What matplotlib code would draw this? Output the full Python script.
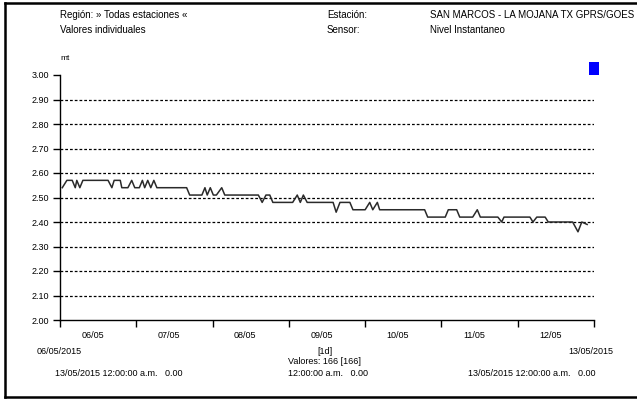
import numpy as np
import matplotlib
matplotlib.use("Agg")
from matplotlib import pyplot as plt
from matplotlib.patches import Rectangle
from matplotlib.lines import Line2D

# days since 06/05/2015 00:00 and water level (mt)
days = [0.03, 0.09, 0.16, 0.20, 0.22, 0.26, 0.30, 0.63, 0.68, 0.71, 0.79, 0.81,
        0.89, 0.94, 0.98, 1.04, 1.08, 1.11, 1.15, 1.19, 1.23, 1.27, 1.66, 1.70,
        1.86, 1.90, 1.93, 1.97, 2.01, 2.05, 2.12, 2.16, 2.60, 2.65, 2.70, 2.75,
        2.79, 3.05, 3.11, 3.15, 3.19, 3.24, 3.58, 3.62, 3.67, 3.80, 3.84, 4.00,
        4.06, 4.10, 4.16, 4.19, 4.78, 4.82, 5.05, 5.09, 5.20, 5.24, 5.41, 5.47,
        5.51, 5.74, 5.79, 5.82, 6.16, 6.20, 6.25, 6.36, 6.40, 6.72, 6.79, 6.84,
        6.91]
nivel = [2.54, 2.57, 2.57, 2.54, 2.57, 2.54, 2.57, 2.57, 2.54, 2.57, 2.57, 2.54,
         2.54, 2.57, 2.54, 2.54, 2.57, 2.54, 2.57, 2.54, 2.57, 2.54, 2.54, 2.51,
         2.51, 2.54, 2.51, 2.54, 2.51, 2.51, 2.54, 2.51, 2.51, 2.48, 2.51, 2.51,
         2.48, 2.48, 2.51, 2.48, 2.51, 2.48, 2.48, 2.44, 2.48, 2.48, 2.45, 2.45,
         2.48, 2.45, 2.48, 2.45, 2.45, 2.42, 2.42, 2.45, 2.45, 2.42, 2.42, 2.45,
         2.42, 2.42, 2.40, 2.42, 2.42, 2.40, 2.42, 2.42, 2.40, 2.40, 2.36, 2.40,
         2.39]

ytick_vals = [2.0, 2.1, 2.2, 2.3, 2.4, 2.5, 2.6, 2.7, 2.8, 2.9, 3.0]
grid_vals = [2.1, 2.2, 2.3, 2.4, 2.5, 2.6, 2.7, 2.8, 2.9]
day_labels = ["06/05", "07/05", "08/05", "09/05", "10/05", "11/05", "12/05"]

plt.rcParams["font.family"] = ["Liberation Sans", "DejaVu Sans"]
fs = 7

fig = plt.figure(figsize=(6.37, 3.99), dpi=100)
fig.patch.set_facecolor("white")
W, H = 637.0, 399.0

def fx(px):
    return px / W

def fy(py):
    return 1 - py / H

ax = fig.add_axes([fx(60), fy(320), fx(594) - fx(60), fy(75) - fy(320)])
ax.set_xlim(0, 7)
ax.set_ylim(2.0, 3.0)

for g in grid_vals:
    ax.axhline(g, color="black", lw=0.9, linestyle=(0, (2.2, 1.6)))

ax.plot(days, nivel, color="#2a2a2a", lw=1.1)

for s in ["top", "right"]:
    ax.spines[s].set_visible(False)
ax.spines["left"].set_linewidth(1.0)
ax.spines["bottom"].set_linewidth(1.0)

ax.set_yticks(ytick_vals)
ax.set_yticklabels(["%.2f" % v for v in ytick_vals], fontsize=fs - 0.5)
ax.set_xticks(range(0, 8))
ax.set_xticklabels([])
ax.tick_params(axis="y", direction="out", length=5, width=1, pad=3)
ax.tick_params(axis="x", direction="out", length=5, width=1)
ax.set_xticks([d + 0.43 for d in range(7)], minor=True)
ax.set_xticklabels(day_labels, minor=True, fontsize=fs - 0.5)
ax.tick_params(axis="x", which="minor", length=0, pad=8)

# header texts
fig.text(fx(60), fy(15), "Región: » Todas estaciones «", fontsize=fs, va="center")
fig.text(fx(60), fy(30), "Valores individuales", fontsize=fs, va="center")
fig.text(fx(60), fy(58), "mt", fontsize=fs - 1, va="center")
fig.text(fx(327), fy(15), "Estación:", fontsize=fs, va="center")
fig.text(fx(327), fy(30), "Sensor:", fontsize=fs, va="center")
fig.text(fx(430), fy(15), "SAN MARCOS - LA MOJANA TX GPRS/GOES", fontsize=fs, va="center")
fig.text(fx(430), fy(30), "Nivel Instantaneo", fontsize=fs, va="center")
fig.patches.append(Rectangle((fx(589), fy(75)), fx(10), 13 / H, transform=fig.transFigure,
                             facecolor="#0000ff", edgecolor="none"))

# footer texts
fig.text(fx(37), fy(352), "06/05/2015", fontsize=fs - 0.5, va="center")
fig.text(fx(613), fy(352), "13/05/2015", fontsize=fs - 0.5, va="center", ha="right")
fig.text(fx(325), fy(352), "[1d]", fontsize=fs - 0.5, va="center", ha="center")
fig.text(fx(325), fy(362), "Valores: 166 [166]", fontsize=fs - 0.5, va="center", ha="center")
fig.text(fx(55), fy(373), "13/05/2015 12:00:00 a.m.   0.00", fontsize=fs - 0.5, va="center")
fig.text(fx(288), fy(373), "12:00:00 a.m.   0.00", fontsize=fs - 0.5, va="center")
fig.text(fx(468), fy(373), "13/05/2015 12:00:00 a.m.   0.00", fontsize=fs - 0.5, va="center")

# outer frame: left, top and bottom edges only
for xs, ys in [([fx(5), fx(5)], [fy(3), fy(397)]),
               ([fx(5), 1.0], [fy(3), fy(3)]),
               ([fx(5), 1.0], [fy(397), fy(397)])]:
    fig.lines.append(Line2D(xs, ys, transform=fig.transFigure, color="black", lw=1.8))

fig.savefig("out.png", dpi=100)
